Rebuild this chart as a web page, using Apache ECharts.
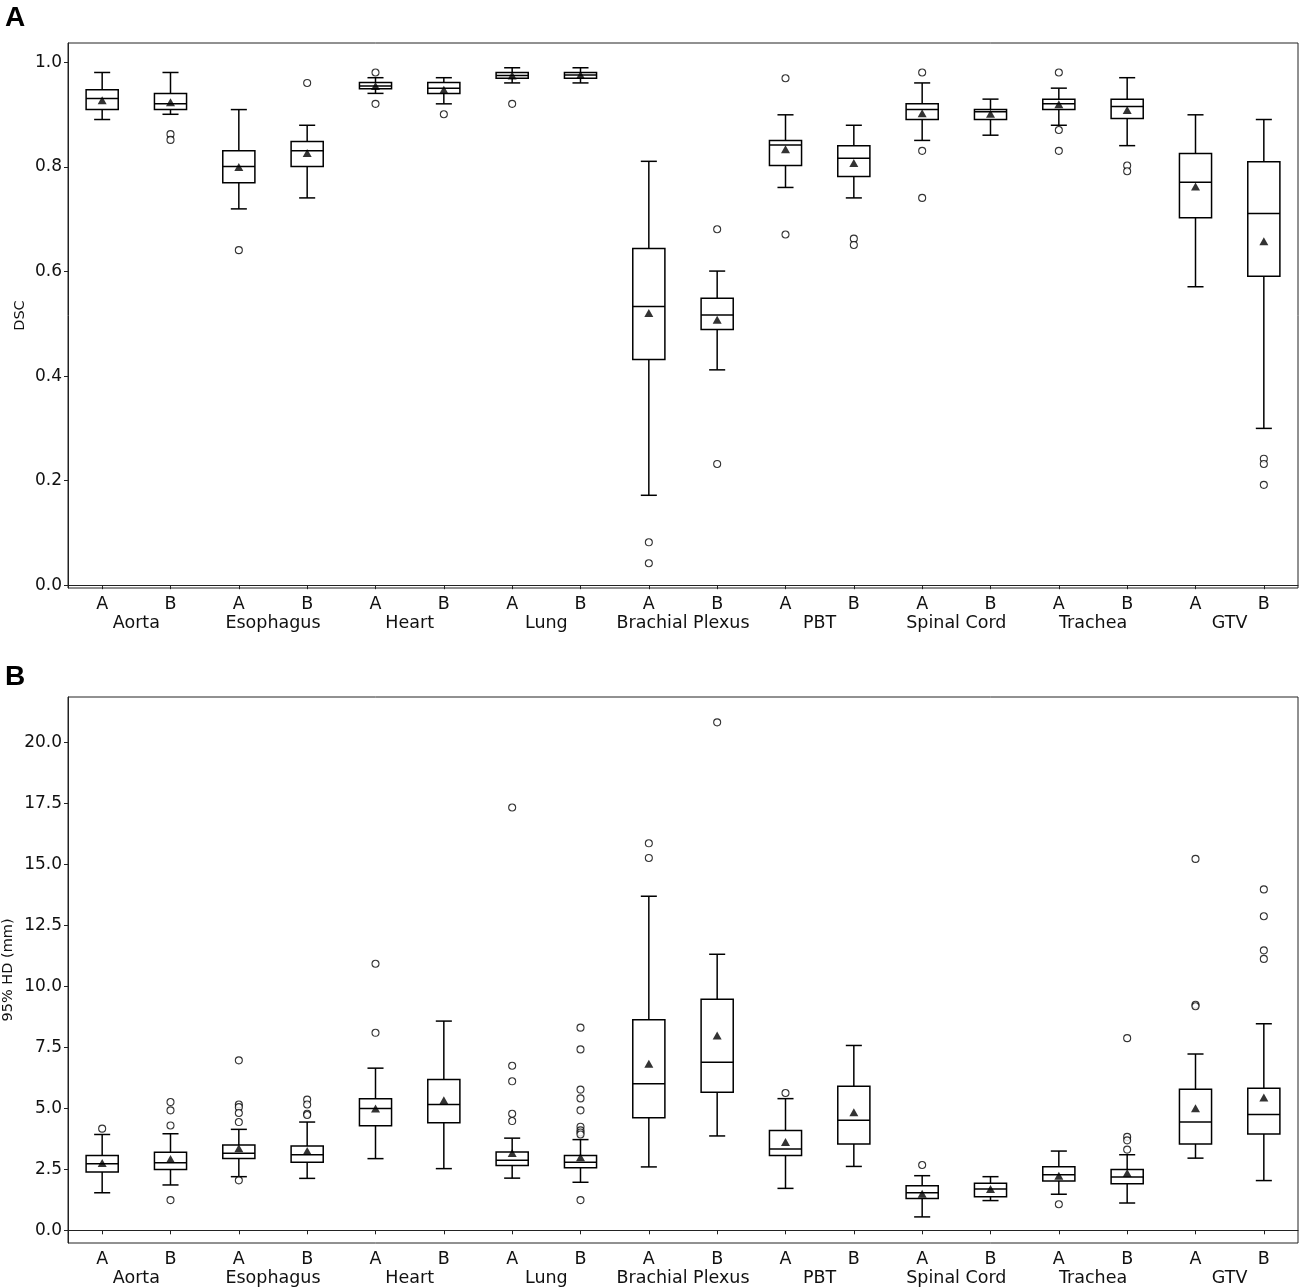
<!DOCTYPE html>
<html>
<head>
<meta charset="utf-8">
<script src="https://cdn.jsdelivr.net/npm/echarts@6/dist/echarts.min.js"></script>
<style>
html,body{margin:0;padding:0;background:#fff;}
#c{width:1300px;height:1287px;}
</style>
</head>
<body>
<div id="c"></div>
<script>
// ---------- categories ----------
var boxLabels = ['A','B','A','B','A','B','A','B','A','B','A','B','A','B','A','B','A','B'];
var structures = ['Aorta','Esophagus','Heart','Lung','Brachial Plexus','PBT','Spinal Cord','Trachea','GTV'];
var dscTicks = [0.0, 0.2, 0.4, 0.6, 0.8, 1.0];
var hdTicks = [0.0, 2.5, 5.0, 7.5, 10.0, 12.5, 15.0, 17.5, 20.0];

// ---------- Panel A: DSC ----------
var dscLow  = [0.891,0.901,0.720,0.741,0.941,0.921,0.961,0.961,0.172,0.412,0.761,0.741,0.851,0.861,0.880,0.841,0.571,0.300];
var dscQ1   = [0.910,0.910,0.770,0.801,0.950,0.941,0.970,0.970,0.432,0.489,0.803,0.782,0.891,0.891,0.910,0.893,0.703,0.591];
var dscMed  = [0.931,0.921,0.801,0.831,0.955,0.951,0.975,0.976,0.533,0.517,0.842,0.817,0.910,0.906,0.921,0.916,0.771,0.711];
var dscQ3   = [0.948,0.941,0.831,0.849,0.962,0.962,0.981,0.981,0.644,0.549,0.851,0.841,0.921,0.910,0.930,0.930,0.826,0.810];
var dscHigh = [0.981,0.981,0.910,0.880,0.971,0.971,0.990,0.990,0.811,0.601,0.900,0.880,0.961,0.930,0.951,0.971,0.900,0.891];
var dscMean = [0.928,0.924,0.800,0.827,0.955,0.948,0.975,0.976,0.521,0.508,0.834,0.808,0.903,0.902,0.920,0.909,0.763,0.658];
var dscOutliers = [
  [], [0.863,0.852], [0.641], [0.961], [0.981,0.921], [0.901], [0.921], [],
  [0.082,0.042], [0.681,0.232], [0.970,0.671], [0.663,0.651],
  [0.981,0.831,0.741], [], [0.981,0.871,0.831], [0.803,0.792], [], [0.242,0.232,0.192]
];

// ---------- Panel B: 95% HD ----------
var hdLow  = [1.54,1.86,2.20,2.13,2.94,2.53,2.14,1.97,2.60,3.87,1.72,2.62,0.55,1.22,1.48,1.12,2.96,2.04];
var hdQ1   = [2.39,2.49,2.94,2.79,4.29,4.41,2.66,2.57,4.62,5.66,3.07,3.54,1.30,1.38,2.02,1.91,3.54,3.95];
var hdMed  = [2.73,2.77,3.16,3.10,5.00,5.16,2.87,2.79,6.01,6.89,3.33,4.51,1.54,1.69,2.28,2.19,4.44,4.75];
var hdQ3   = [3.07,3.20,3.50,3.46,5.40,6.18,3.21,3.07,8.63,9.48,4.09,5.91,1.83,1.93,2.61,2.49,5.79,5.83];
var hdHigh = [3.93,3.96,4.14,4.44,6.65,8.58,3.78,3.72,13.70,11.32,5.40,7.58,2.24,2.20,3.25,3.10,7.23,8.47];
var hdMean = [2.76,2.92,3.37,3.25,5.00,5.33,3.17,3.00,6.83,7.99,3.62,4.84,1.50,1.69,2.24,2.35,5.01,5.45];
var hdOutliers = [
  [4.17], [5.26,4.92,4.30,1.24], [6.97,5.16,5.05,4.81,4.44,2.05], [5.36,5.16,4.78,4.73],
  [10.93,8.10], [], [17.34,6.75,6.11,4.78,4.48], [8.31,7.42,5.77,5.41,4.92,4.25,4.10,4.01,3.93,1.24],
  [15.87,15.27], [20.83], [5.63], [], [2.68], [], [1.07], [7.88,3.83,3.69,3.31],
  [15.23,9.25,9.19], [13.98,12.88,11.48,11.13]
];

// ---------- build ----------
function boxData(lo,q1,md,q3,hi){
  return lo.map(function(v,i){ return [i, lo[i], q1[i], md[i], q3[i], hi[i]]; });
}
function pointData(arr){ return arr.map(function(v,i){ return [i, v]; }); }
function outlierData(arr){
  var out = [];
  arr.forEach(function(list,i){ list.forEach(function(v){ out.push([i, v]); }); });
  return out;
}
var LC = '#000';
var LW = 1.5;
function renderBox(params, api){
  var x = api.value(0);
  var pLo = api.coord([x, api.value(1)]);
  var pQ1 = api.coord([x, api.value(2)]);
  var pMd = api.coord([x, api.value(3)]);
  var pQ3 = api.coord([x, api.value(4)]);
  var pHi = api.coord([x, api.value(5)]);
  var band = api.size([1, 0])[0];
  var bw = band * 0.47, cw = bw / 2;
  var cx = pMd[0];
  var st = {stroke: LC, lineWidth: LW, fill: null};
  return {
    type: 'group',
    children: [
      {type:'line', shape:{x1:cx, y1:pQ3[1], x2:cx, y2:pHi[1]}, style: st},
      {type:'line', shape:{x1:cx, y1:pQ1[1], x2:cx, y2:pLo[1]}, style: st},
      {type:'line', shape:{x1:cx-cw/2, y1:pHi[1], x2:cx+cw/2, y2:pHi[1]}, style: st},
      {type:'line', shape:{x1:cx-cw/2, y1:pLo[1], x2:cx+cw/2, y2:pLo[1]}, style: st},
      {type:'rect', shape:{x:cx-bw/2, y:pQ3[1], width:bw, height:pQ1[1]-pQ3[1]}, style:{stroke:LC, lineWidth:LW, fill:'#fff'}},
      {type:'line', shape:{x1:cx-bw/2, y1:pMd[1], x2:cx+bw/2, y2:pMd[1]}, style: st}
    ]
  };
}

var FONT = 'DejaVu Sans';
function catAxis(grid){
  return {
    type:'category', gridIndex:grid, data: boxLabels, boundaryGap:true,
    axisLine:{show:true, lineStyle:{color:'#222', width:1}},
    axisTick:{show:true, alignWithLabel:true, length:4, lineStyle:{color:'#222'}},
    axisLabel:{color:'#111', fontFamily:FONT, fontSize:17.5, margin:7},
    splitLine:{show:false}
  };
}
function groupAxis(grid){
  return {
    type:'category', gridIndex:grid, data: structures, position:'bottom', boundaryGap:true,
    axisLine:{show:false}, axisTick:{show:false},
    axisLabel:{color:'#111', fontFamily:FONT, fontSize:17.5, margin:26, interval:0},
    splitLine:{show:false}
  };
}
function valAxis(grid, min, max, ticks, name, gap){
  return {
    type:'value', gridIndex:grid, min:min, max:max, name:name,
    nameLocation:'middle', nameGap:gap, nameRotate:90, nameMoveOverlap:false,
    nameTextStyle:{color:'#111', fontFamily:FONT, fontSize:14.5},
    axisLine:{show:true, lineStyle:{color:'#222', width:1}},
    axisTick:{show:true, length:4, customValues: ticks, lineStyle:{color:'#222'}},
    axisLabel:{color:'#111', fontFamily:FONT, fontSize:17, margin:6, customValues: ticks,
      formatter:function(v){ return Number(v).toFixed(1); }},
    splitLine:{show:false}
  };
}

var option = {
  animation:false,
  backgroundColor:'#fff',
  title:[
    {text:'A', left:0, top:-1, textStyle:{fontFamily:'Liberation Sans', fontWeight:'bold', fontSize:28, color:'#000'}},
    {text:'B', left:0, top:658, textStyle:{fontFamily:'Liberation Sans', fontWeight:'bold', fontSize:28, color:'#000'}}
  ],
  grid:[
    {left:68, top:43, right:2, height:545, show:true, borderColor:'#222', borderWidth:1, backgroundColor:'transparent', containLabel:false, outerBoundsMode:'none'},
    {left:68, top:697, right:2, height:546, show:true, borderColor:'#222', borderWidth:1, backgroundColor:'transparent', containLabel:false, outerBoundsMode:'none'}
  ],
  xAxis:[ catAxis(0), groupAxis(0), catAxis(1), groupAxis(1) ],
  yAxis:[
    valAxis(0, -0.0054, 1.0374, dscTicks, 'DSC', 40),
    valAxis(1, -0.52, 21.87, hdTicks, '95% HD (mm)', 52)
  ],
  series:[
    {type:'custom', xAxisIndex:0, yAxisIndex:0, renderItem:renderBox, encode:{x:0, y:[1,2,3,4,5]},
      data: boxData(dscLow,dscQ1,dscMed,dscQ3,dscHigh), z:2},
    {type:'scatter', xAxisIndex:0, yAxisIndex:0, data: outlierData(dscOutliers), symbol:'circle', symbolSize:7,
      itemStyle:{color:'#fff', borderColor:LC, borderWidth:1.1}, z:3},
    {type:'scatter', xAxisIndex:0, yAxisIndex:0, data: pointData(dscMean), symbol:'triangle', symbolSize:[9,8],
      itemStyle:{color:'#000'}, z:4},
    {type:'custom', xAxisIndex:2, yAxisIndex:1, renderItem:renderBox, encode:{x:0, y:[1,2,3,4,5]},
      data: boxData(hdLow,hdQ1,hdMed,hdQ3,hdHigh), z:2},
    {type:'scatter', xAxisIndex:2, yAxisIndex:1, data: outlierData(hdOutliers), symbol:'circle', symbolSize:7,
      itemStyle:{color:'#fff', borderColor:LC, borderWidth:1.1}, z:3},
    {type:'scatter', xAxisIndex:2, yAxisIndex:1, data: pointData(hdMean), symbol:'triangle', symbolSize:[9,8],
      itemStyle:{color:'#000'}, z:4}
  ]
};
var chart = echarts.init(document.getElementById('c'), null, {renderer:'canvas'});
chart.setOption(option);
</script>
</body>
</html>
